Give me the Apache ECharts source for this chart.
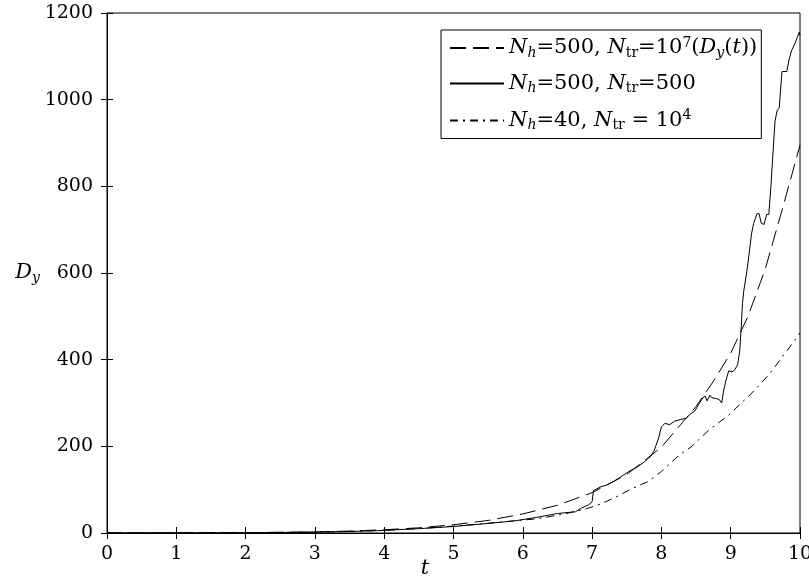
<!DOCTYPE html>
<html>
<head>
<meta charset="utf-8">
<script src="https://cdn.jsdelivr.net/npm/echarts@6/dist/echarts.min.js"></script>
<style>
  html, body { margin: 0; padding: 0; background: #fff; }
  #chart { width: 809px; height: 580px; }
</style>
</head>
<body>
<div id="chart"></div>
<script>
// D_y(t) reference, N_h=500, N_tr=1e7
var tRef = [0, 1, 2, 3, 3.5, 4, 4.5, 5, 5.5, 6, 6.5, 7, 7.5, 8, 8.5, 8.75, 9, 9.25, 9.5, 9.75, 10];
var dRef = [0.1, 0.3, 0.9, 2.5, 4.5, 7.5, 12, 19, 29, 44, 64, 93, 135, 198, 292, 350, 415, 500, 610, 750, 895];

// N_h=500, N_tr=500 (noisy)
var tSolid = [0, 1, 2, 3, 3.5, 4, 4.5, 5, 5.5, 5.88, 6.2, 6.5, 6.76, 6.85, 6.95, 7.0, 7.02, 7.13, 7.2, 7.31, 7.4,
  7.53, 7.65, 7.76, 7.85, 7.89, 7.96, 8.0, 8.05, 8.12, 8.19, 8.28, 8.36, 8.42, 8.48, 8.55, 8.6, 8.63, 8.66,
  8.7, 8.73, 8.8, 8.84, 8.87, 8.9, 8.93, 8.97, 9.02, 9.06, 9.1, 9.13, 9.15, 9.17, 9.19, 9.23, 9.26, 9.3,
  9.33, 9.38, 9.41, 9.44, 9.48, 9.52, 9.55, 9.58, 9.6, 9.64, 9.67, 9.7, 9.74, 9.81, 9.84, 9.88, 9.93, 9.96, 9.99, 10];
var dSolid = [0, 0.2, 0.6, 2, 3.5, 6, 10, 15, 22, 28, 36, 45, 49, 58, 65, 72, 98, 107, 110, 119, 128,
  142, 152, 165, 178, 188, 219, 245, 253, 250, 258, 262, 265, 275, 281, 300, 312, 316, 305,
  318, 312, 310, 307, 300, 330, 351, 374, 372, 377, 388, 420, 470, 530, 560, 600, 637, 690,
  714, 737, 737, 715, 712, 735, 735, 800, 851, 951, 975, 981, 1065, 1065, 1091, 1114, 1130, 1144, 1156, 1148];

// N_h=40, N_tr=1e4
var tDash = [0, 1, 2, 3, 3.5, 4, 4.67, 5.4, 5.8, 6.22, 6.6, 6.92, 7.13, 7.38, 7.57, 7.81, 8.0, 8.25, 8.44, 8.68, 8.97, 9.28, 9.55, 9.88, 10];
var dDash = [0, 0.2, 0.6, 2, 3.5, 6, 12, 21, 27, 33, 44, 56, 67, 86, 102, 119, 142, 179, 200, 237, 272, 319, 365, 435, 462];

function zip(a, b) {
  return a.map(function (v, i) { return [v, b[i]]; });
}

var serif = 'DejaVu Serif';
var rich = {
  t: { fontFamily: serif, fontSize: 21, color: '#000' },
  i: { fontFamily: serif, fontSize: 21, fontStyle: 'italic', color: '#000' },
  s: { fontFamily: serif, fontSize: 14, fontStyle: 'italic', color: '#000', padding: [10, 0, 0, 0] },
  r: { fontFamily: serif, fontSize: 14, color: '#000', padding: [10, 0, 0, 0] },
  p: { fontFamily: serif, fontSize: 14, color: '#000', padding: [0, 0, 10, 0] }
};

var legendText = {
  ref: '{i|N}{s|h}{t|=500, }{i|N}{r|tr}{t|=10}{p|7}{t|(}{i|D}{s|y}{t|(}{i|t}{t|))}',
  solid: '{i|N}{s|h}{t|=500, }{i|N}{r|tr}{t|=500}',
  dash: '{i|N}{s|h}{t|=40, }{i|N}{r|tr}{t| = 10}{p|4}'
};

var chart = echarts.init(document.getElementById('chart'));

var axisCommon = {
  axisLine: { lineStyle: { color: '#000', width: 1 } },
  axisTick: { inside: true, length: 6, lineStyle: { color: '#000' } },
  splitLine: { show: false }
};
var tickFont = { fontFamily: serif, fontSize: 19, color: '#000' };

chart.setOption({
  animation: false,
  backgroundColor: '#fff',
  grid: {
    left: 107, right: 9, top: 13, bottom: 47, outerBoundsMode: 'none',
    show: true, borderColor: '#000', borderWidth: 1
  },
  legend: {
    orient: 'vertical',
    left: 441,
    top: 30,
    itemWidth: 54,
    itemHeight: 14,
    itemGap: 13,
    padding: [6, 4, 6, 8],
    borderColor: '#000',
    borderWidth: 1,
    backgroundColor: '#fff',
    data: ['ref', 'solid', 'dash'],
    itemStyle: { color: 'rgba(0,0,0,0)', borderWidth: 0, opacity: 0 },
    formatter: function (name) { return legendText[name]; },
    textStyle: { rich: rich }
  },
  xAxis: [
    Object.assign({
      type: 'value', min: 0, max: 10, interval: 1,
      name: '{i|t}', nameLocation: 'middle', nameGap: 25, nameMoveOverlap: false,
      nameTextStyle: { rich: rich, padding: [0, 57, 0, 0] },
      axisLabel: Object.assign({ margin: 12, formatter: function (v) { return String(v); } }, tickFont)
    }, axisCommon),
    Object.assign({
      type: 'value', min: 0, max: 10, interval: 1, position: 'top',
      axisLabel: { show: false }
    }, axisCommon)
  ],
  yAxis: [
    Object.assign({
      type: 'value', min: 0, max: 1200, interval: 200,
      name: '{i|D}{s|y}', nameLocation: 'middle', nameRotate: 0, nameGap: 67, nameMoveOverlap: false,
      nameTextStyle: { rich: rich },
      axisLabel: Object.assign({ margin: 14, formatter: function (v) { return String(v); } }, tickFont)
    }, axisCommon),
    Object.assign({
      type: 'value', min: 0, max: 1200, interval: 200, position: 'right',
      axisLabel: { show: false }
    }, axisCommon)
  ],
  series: [
    {
      name: 'ref', type: 'line', symbol: 'none', data: zip(tRef, dRef),
      lineStyle: { color: '#000', width: 1, type: [16, 7] }, itemStyle: { color: '#000' }
    },
    {
      name: 'solid', type: 'line', symbol: 'none', data: zip(tSolid, dSolid),
      lineStyle: { color: '#000', width: 1, type: 'solid' }, itemStyle: { color: '#000' }
    },
    {
      name: 'dash', type: 'line', symbol: 'none', data: zip(tDash, dDash),
      lineStyle: { color: '#000', width: 1, type: [8, 5, 2, 5] }, itemStyle: { color: '#000' }
    }
  ]
});
</script>
</body>
</html>
